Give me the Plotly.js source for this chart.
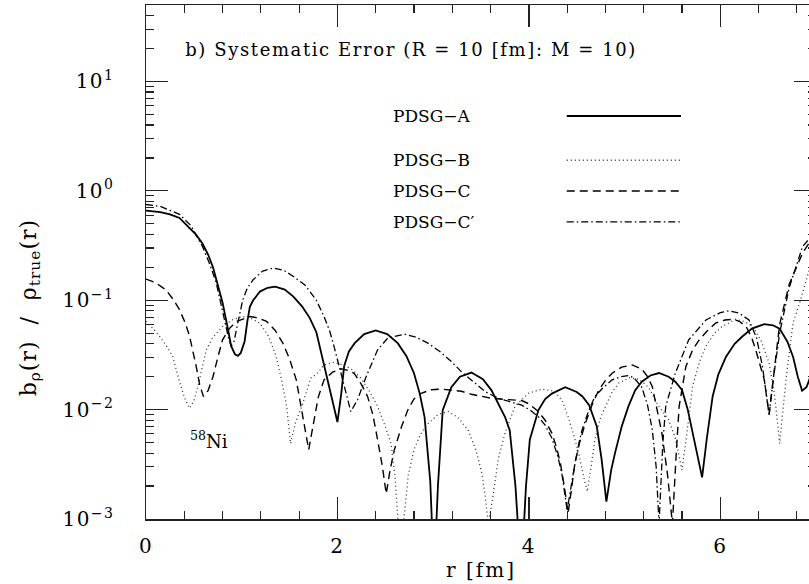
<!DOCTYPE html>
<html>
<head>
<meta charset="utf-8">
<script src="https://cdn.plot.ly/plotly-3.0.1.min.js"></script>
<style>
html,body{margin:0;padding:0;overflow:hidden;background:#fff;}
#chart{width:822px;height:584px;}
.xtick text, .ytick text{letter-spacing:1.5px;}
.xtitle{letter-spacing:2px;}
.annotation[data-index="0"] text{letter-spacing:1.6px;}
.annotation[data-index="2"] text{letter-spacing:1px;}
</style>
</head>
<body>
<div id="chart"></div>
<script>
// ---- data (r in fm, b_rho/rho_true) ----
var seriesNames = ["PDSG\u2212A", "PDSG\u2212B", "PDSG\u2212C", "PDSG\u2212C\u2032"];

var rA = [0.00,0.15,0.25,0.35,0.45,0.52,0.59,0.65,0.70,0.75,0.80,0.857,0.89,0.93,0.96,0.99,1.03,1.06,1.085,1.12,1.19,1.27,1.35,1.45,1.54,1.63,1.71,1.78,1.86,1.93,2.00,2.04,2.07,2.12,2.18,2.28,2.40,2.52,2.63,2.72,2.80,2.86,2.91,2.97,3.01,3.05,3.10,3.19,3.28,3.40,3.52,3.61,3.70,3.75,3.80,3.86,3.92,3.97,4.01,4.10,4.17,4.24,4.38,4.50,4.56,4.63,4.71,4.76,4.81,4.86,4.90,4.97,5.04,5.11,5.18,5.27,5.36,5.46,5.53,5.60,5.66,5.71,5.76,5.81,5.86,5.92,5.98,6.06,6.15,6.23,6.33,6.46,6.55,6.62,6.70,6.76,6.81,6.855,6.90,6.93,6.97,7.02];
var vA = [0.66,0.64,0.61,0.565,0.46,0.40,0.33,0.26,0.20,0.14,0.095,0.054,0.038,0.032,0.031,0.033,0.042,0.065,0.087,0.100,0.120,0.130,0.133,0.125,0.108,0.088,0.069,0.051,0.025,0.014,0.0077,0.014,0.025,0.034,0.0405,0.049,0.053,0.049,0.0405,0.031,0.0215,0.014,0.0086,0.0022,0.0003,0.002,0.0099,0.016,0.020,0.0218,0.019,0.015,0.0105,0.0086,0.0065,0.002,0.0003,0.002,0.0053,0.0099,0.0125,0.014,0.016,0.0145,0.0132,0.011,0.0070,0.0035,0.00144,0.0028,0.0040,0.0070,0.0107,0.015,0.018,0.0205,0.0216,0.020,0.018,0.0151,0.010,0.0061,0.0038,0.0024,0.0055,0.0132,0.021,0.0305,0.040,0.0466,0.055,0.0605,0.059,0.055,0.042,0.0305,0.020,0.0149,0.016,0.0187,0.025,0.035];

var rB = [0.00,0.10,0.20,0.28,0.35,0.40,0.455,0.50,0.54,0.59,0.63,0.70,0.80,0.90,1.01,1.10,1.19,1.28,1.36,1.42,1.47,1.51,1.56,1.64,1.72,1.78,1.86,1.96,2.07,2.16,2.245,2.33,2.42,2.50,2.56,2.60,2.64,2.69,2.74,2.80,2.87,2.95,3.05,3.155,3.26,3.365,3.45,3.51,3.545,3.575,3.62,3.68,3.75,3.855,3.995,4.135,4.27,4.35,4.41,4.47,4.52,4.57,4.61,4.65,4.69,4.75,4.80,4.87,4.94,5.05,5.15,5.25,5.35,5.46,5.53,5.60,5.65,5.71,5.78,5.85,5.94,6.02,6.16,6.25,6.34,6.43,6.51,6.56,6.58,6.62,6.655,6.69,6.76,6.83,6.93,7.02];
var vB = [0.064,0.052,0.040,0.0305,0.018,0.013,0.0103,0.012,0.016,0.025,0.0352,0.046,0.0575,0.066,0.071,0.068,0.0617,0.047,0.0305,0.018,0.0107,0.0049,0.0075,0.0115,0.0194,0.021,0.0256,0.027,0.0256,0.023,0.0194,0.015,0.0107,0.0070,0.0049,0.0025,0.0008,0.0009,0.0025,0.0043,0.006,0.0075,0.0090,0.0096,0.0085,0.0065,0.0042,0.0026,0.0016,0.0009,0.0015,0.0035,0.0061,0.0107,0.0141,0.0154,0.0147,0.012,0.0086,0.0058,0.0040,0.0025,0.00178,0.003,0.0053,0.0085,0.0107,0.0145,0.0175,0.0195,0.019,0.016,0.011,0.0081,0.0055,0.0028,0.006,0.0162,0.027,0.038,0.050,0.0575,0.067,0.064,0.0575,0.042,0.0266,0.015,0.0107,0.0049,0.010,0.020,0.062,0.095,0.19,0.26];

var rC = [0.00,0.10,0.21,0.29,0.35,0.41,0.455,0.50,0.525,0.56,0.60,0.65,0.70,0.75,0.80,0.87,0.945,1.085,1.17,1.26,1.35,1.43,1.50,1.57,1.61,1.64,1.70,1.75,1.80,1.86,1.95,2.035,2.10,2.175,2.25,2.315,2.37,2.42,2.47,2.51,2.55,2.595,2.67,2.735,2.80,2.875,2.98,3.085,3.20,3.295,3.40,3.505,3.61,3.75,3.925,4.00,4.10,4.17,4.24,4.29,4.33,4.37,4.41,4.45,4.48,4.53,4.59,4.66,4.73,4.80,4.87,4.97,5.08,5.18,5.24,5.29,5.34,5.39,5.45,5.50,5.54,5.57,5.64,5.71,5.78,5.86,5.95,6.05,6.13,6.20,6.27,6.33,6.37,6.42,6.46,6.51,6.55,6.62,6.72,6.86,6.97,7.02];
var vC = [0.156,0.145,0.124,0.100,0.082,0.062,0.047,0.032,0.0247,0.017,0.0132,0.015,0.020,0.030,0.0434,0.055,0.064,0.071,0.069,0.064,0.053,0.0405,0.029,0.0187,0.012,0.0086,0.0043,0.0075,0.013,0.0187,0.022,0.0236,0.023,0.0215,0.017,0.0132,0.009,0.0053,0.003,0.0017,0.0028,0.0043,0.007,0.0099,0.0125,0.0141,0.0152,0.0154,0.0151,0.0147,0.0138,0.0132,0.0127,0.0124,0.0121,0.0113,0.0096,0.008,0.0061,0.0045,0.0032,0.002,0.00113,0.002,0.0032,0.005,0.0075,0.011,0.0151,0.0185,0.0215,0.0245,0.0256,0.0235,0.020,0.0162,0.010,0.0061,0.0025,0.0009,0.004,0.0107,0.0247,0.035,0.0434,0.052,0.0617,0.066,0.067,0.064,0.0575,0.045,0.0352,0.024,0.0187,0.009,0.0187,0.060,0.14,0.27,0.38,0.42];

var rCp = [0.00,0.15,0.35,0.47,0.59,0.67,0.735,0.78,0.82,0.86,0.89,0.92,0.945,0.98,1.01,1.06,1.12,1.22,1.33,1.44,1.54,1.66,1.72,1.78,1.86,1.92,1.965,2.035,2.09,2.14,2.21,2.30,2.42,2.525,2.70,2.82,2.945,3.07,3.19,3.30,3.42,3.55,3.68,3.80,3.925,4.02,4.10,4.17,4.24,4.30,4.345,4.40,4.44,4.47,4.52,4.555,4.62,4.69,4.78,4.87,4.96,5.04,5.10,5.18,5.24,5.29,5.33,5.36,5.40,5.43,5.53,5.67,5.85,6.00,6.09,6.20,6.30,6.38,6.44,6.48,6.51,6.55,6.62,6.72,6.86,6.97,7.02];
var vCp = [0.75,0.72,0.61,0.48,0.31,0.21,0.143,0.095,0.066,0.046,0.038,0.042,0.054,0.075,0.10,0.13,0.154,0.185,0.197,0.188,0.165,0.138,0.116,0.100,0.071,0.052,0.0377,0.0215,0.014,0.0096,0.0123,0.020,0.0352,0.045,0.049,0.046,0.0405,0.034,0.0275,0.022,0.018,0.0145,0.0127,0.0118,0.011,0.0098,0.0086,0.0072,0.0055,0.0038,0.0026,0.0012,0.002,0.0028,0.0048,0.0065,0.0095,0.0132,0.016,0.0187,0.020,0.0205,0.0195,0.016,0.011,0.0065,0.003,0.0009,0.005,0.0107,0.0215,0.0434,0.066,0.077,0.080,0.076,0.066,0.045,0.025,0.014,0.009,0.018,0.050,0.13,0.31,0.40,0.44];

var yTickVals = [0.001, 0.01, 0.1, 1, 10];
var yTickText = ["10<sup>\u22123</sup>", "10<sup>\u22122</sup>", "10<sup>\u22121</sup>", "10<sup>0</sup>", "10<sup>1</sup>"];
var xTickVals = [0, 2, 4, 6];
var xTickText = ["0", "2", "4", "6"];
var yTitle = "b<sub>\u03c1</sub>(r)  /  \u03c1<sub>true</sub>(r)";
var xTitle = "r [fm]";

// ---- styles ----
var styles = [
  {width: 1.8, dash: "solid", color: "#000"},
  {width: 1.3, dash: "1px,3px", color: "#333"},
  {width: 1.4, dash: "8px,5px", color: "#000"},
  {width: 1.3, dash: "7px,3px,1.5px,3px", color: "#000"}
];
var xs = [rA, rB, rC, rCp];
var ys = [vA, vB, vC, vCp];

var traces = xs.map(function(x, i){
  return {x: x, y: ys[i], type: "scatter", mode: "lines", name: seriesNames[i],
          line: {color: styles[i].color, width: styles[i].width, dash: styles[i].dash},
          showlegend: false, hoverinfo: "skip", cliponaxis: true};
});

// minor ticks on log axis
var minorY = [];
for (var e = -3; e <= 1; e++) {
  for (var m = 2; m <= 9; m++) {
    var v = m * Math.pow(10, e);
    if (v <= 50) minorY.push(v);
  }
}

var font = "DejaVu Serif, Liberation Serif, serif";
var legendY = [0.784, 0.698, 0.638, 0.578];
var annotations = [
  {xref: "paper", yref: "paper", x: 0.104, y: 0.9125, xanchor: "left", yanchor: "middle",
   text: "b) Systematic Error (R = 10 [fm]: M = 10)", showarrow: false,
   font: {family: font, size: 18, color: "#000"}},
  {xref: "paper", yref: "paper", x: 0.062, y: 0.154, xanchor: "left", yanchor: "middle",
   text: "<sup>58</sup>Ni", showarrow: false, font: {family: font, size: 18, color: "#000"}},
  {xref: "paper", yref: "paper", x: -0.173, y: 0.41, xanchor: "center", yanchor: "middle", textangle: -90,
   text: yTitle, showarrow: false, font: {family: font, size: 22, color: "#000"}}
];
var shapes = [];
seriesNames.forEach(function(n, i){
  annotations.push({xref: "paper", yref: "paper", x: 0.365, y: legendY[i], xanchor: "left", yanchor: "middle",
    text: n, showarrow: false, font: {family: font, size: 17, color: "#000"}});
  shapes.push({type: "line", xref: "paper", yref: "paper", x0: 0.628, x1: 0.7985, y0: legendY[i], y1: legendY[i],
    line: {color: styles[i].color, width: styles[i].width, dash: styles[i].dash}});
});

var axisCommon = {
  showline: true, linecolor: "#222", linewidth: 1.5, mirror: "ticks",
  ticks: "inside", ticklen: 22, tickwidth: 1.3, tickcolor: "#222",
  showgrid: false, zeroline: false,
  tickfont: {family: font, size: 20, color: "#000"}
};

var layout = {
  width: 822, height: 584,
  margin: {l: 146, r: 6, t: 5, b: 65},
  paper_bgcolor: "#fff", plot_bgcolor: "#fff",
  showlegend: false,
  xaxis: Object.assign({}, axisCommon, {
    range: [0, 7], tickmode: "array", tickvals: xTickVals, ticktext: xTickText,
    ticklabelstandoff: 8,
    minor: {dtick: 0.4, tick0: 0, ticks: "inside", ticklen: 8, tickwidth: 1.2, tickcolor: "#222"},
    title: {text: xTitle, font: {family: font, size: 20, color: "#000"}, standoff: 6}
  }),
  yaxis: Object.assign({}, axisCommon, {
    type: "log", range: [-3, Math.log10(50)], tickmode: "array", tickvals: yTickVals, ticktext: yTickText,
    ticklabelstandoff: 26,
    minor: {tickmode: "array", tickvals: minorY, ticks: "inside", ticklen: 8, tickwidth: 1.2, tickcolor: "#222"}
  }),
  annotations: annotations,
  shapes: shapes
};

Plotly.newPlot("chart", traces, layout, {staticPlot: true, displayModeBar: false});
</script>
</body>
</html>
